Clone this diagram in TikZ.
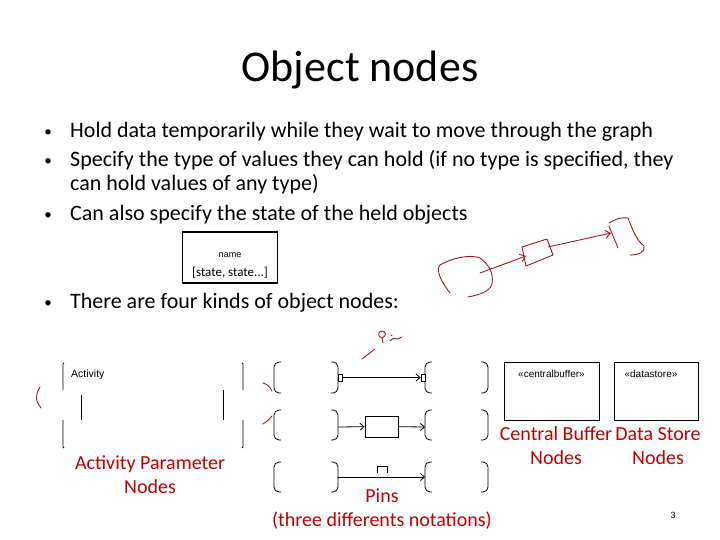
\documentclass[tikz,border=0pt]{standalone}
\usepackage{fontspec}
\setmainfont{Carlito}
\newfontfamily\arialfont{Liberation Sans}
\usetikzlibrary{arrows.meta}
\definecolor{slidered}{RGB}{192,0,0}
\definecolor{inkred}{RGB}{170,20,40}
\tikzset{
  body/.style={font=\fontsize{22}{24}\selectfont, anchor=base west, inner sep=0pt},
  redlabel/.style={font=\fontsize{20}{24}\selectfont, text=slidered, align=center, inner sep=0pt},
  thin line/.style={draw=black, line width=0.8pt},
  ink/.style={draw=inkred, line width=0.9pt, line cap=round, line join=round},
  flow/.style={thin line, -{Straight Barb[length=4pt,width=7pt]}},
  pinbox/.style={thin line, fill=white, minimum width=4pt, minimum height=7pt, inner sep=0pt, rectangle},
  smalltag/.style={font=\arialfont\fontsize{10}{11}\selectfont, inner sep=0pt, anchor=base},
}
\newcommand{\bbox}[4]{%
  \draw[thin line, rounded corners=5pt] (#1+7,#2) -- (#1,#2) -- (#1,#4) -- (#1+7,#4);
  \draw[thin line, rounded corners=5pt] (#3-7,#2) -- (#3,#2) -- (#3,#4) -- (#3-7,#4);}
\begin{document}
\begin{tikzpicture}[x=1pt,y=-1pt]
\useasboundingbox (0,0) rectangle (720,540);
\fill[white] (0,0) rectangle (720,540);
% title
\node[font=\fontsize{44}{50}\selectfont, anchor=base, inner sep=0pt] (title) at (360,82) {Object nodes};
% bullets
\foreach \y/\n in {138/b1,167/b2,221/b3,308/b4}{
  \node[font=\fontsize{15}{18}\selectfont, anchor=base, inner sep=0pt] (dot\n) at (48,\y-1) {•};
}
\node[body] (b1) at (70,138) {Hold data temporarily while they wait to move through the graph};
\node[body] (b2) at (70,167) {Specify the type of values they can hold (if no type is specified, they};
\node[body] (b2b) at (70,191) {can hold values of any type)};
\node[body] (b3) at (70,221) {Can also specify the state of the held objects};
\node[body] (b4) at (70,308) {There are four kinds of object nodes:};
% object node with state
\node[draw, line width=1.6pt, minimum width=95pt, minimum height=51pt, inner sep=0pt] (objstate) at (230,257.5) {};
\node[font=\arialfont\fontsize{9}{10}\selectfont, inner sep=0pt, anchor=base] (nm) at (230,258) {name};
\node[font=\fontsize{13}{14}\selectfont, inner sep=0pt, anchor=base] (st) at (230,276) {[state, state...]};
% hand sketch
\draw[ink] (450,293) .. controls (440,280) and (436,270) .. (440,265) .. controls (452,258) and (470,254) .. (480,258) .. controls (488,264) and (494,272) .. (492,284) .. controls (490,292) and (478,295) .. (468,297);
\coordinate (sk1) at (480,273);
\coordinate (sk2) at (526,256);
\draw[ink, -{Straight Barb[length=5pt,width=8pt]}] (sk1) -- (sk2);
\draw[ink] (522,247) -- (547,239) -- (553,255) -- (526,266) -- cycle;
\coordinate (sk3) at (548,247);
\coordinate (sk4) at (611,233);
\draw[ink, -{Straight Barb[length=5pt,width=8pt]}] (sk3) -- (sk4);
\draw[ink] (609,223) .. controls (615,219) and (622,217) .. (628,218) .. controls (632,228) and (636,240) .. (644,246) .. controls (646,252) and (638,255) .. (630,255);
\draw[ink] (609,226) -- (618,248);
% activity parameter
\node[font=\arialfont\fontsize{10.5}{12}\selectfont, anchor=base west, inner sep=0pt] (act) at (71,377) {Activity};
\draw[thin line] (64,363) -- (63,364) -- (63,390);
\draw[thin line] (63,420) -- (63,447) -- (64,448);
\draw[thin line] (242,363) -- (243,364) -- (243,390);
\draw[thin line] (243,420) -- (243,447) -- (242,448);
\draw[thin line] (81,395) -- (81,420);
\draw[thin line] (223,390) -- (223,420);
\draw[ink] (40,387) .. controls (35,395) and (35,400) .. (41,408);
\node[redlabel, align=center] (aplabel) at (150,475) {Activity Parameter\\Nodes};
% pins
\bbox{274}{362}{338}{393}
\bbox{425}{362}{488}{393}
\bbox{274}{410}{338}{440}
\bbox{425}{410}{488}{440}
\bbox{274}{462}{338}{492}
\bbox{425}{462}{488}{492}
\node[pinbox] (pinA) at (340,377.5) {};
\node[pinbox] (pinB) at (423,377.5) {};
\draw[flow] (pinA) -- (pinB);
\node[draw, thin line, fill=white, minimum width=33pt, minimum height=21pt, inner sep=0pt] (objmid) at (381.5,426.5) {};
\coordinate (r2a) at (338,427);
\coordinate (r2b) at (425,427);
\draw[flow] (r2a) -- (objmid);
\draw[flow] (objmid) -- (r2b);
\coordinate (r3a) at (338,477);
\coordinate (r3b) at (425,477);
\draw[flow] (r3a) -- (r3b);
\draw[thin line] (377,473) -- (377,466) -- (387,466) -- (387,473);
\draw[ink] (263,383) .. controls (267,384) and (270,387) .. (272,391);
\draw[ink] (263,424) .. controls (266,422) and (269,420) .. (272,416);
\draw[ink] (362,359) -- (375,349);
\draw[ink] (383,343) -- (382,338) .. controls (377,337) and (378,331) .. (382,331) .. controls (386,331) and (387,336) .. (382,338);
\draw[ink] (391,335) -- (392,335);
\draw[ink] (390,341) .. controls (394,336) and (396,340) .. (398,339) .. controls (400,338) and (401,337) .. (402,337);
\node[redlabel] (pinlabel) at (382,509) {Pins\\(three differents notations)};
% central buffer & data store
\node[draw, thin line, minimum width=95pt, minimum height=58pt, inner sep=0pt] (cb) at (551.5,391) {};
\node[smalltag] (cbt) at (551.5,377) {«centralbuffer»};
\node[draw, thin line, minimum width=84pt, minimum height=58pt, inner sep=0pt] (ds) at (656,391) {};
\node[smalltag] (dst) at (651,377) {«datastore»};
\node[redlabel] (cblabel) at (556,446) {Central Buffer\\Nodes};
\node[redlabel] (dslabel) at (658,446) {Data Store\\Nodes};
\node[font=\arialfont\fontsize{9}{10}\selectfont, inner sep=0pt] (pg) at (673,515) {3};
\end{tikzpicture}
\end{document}
